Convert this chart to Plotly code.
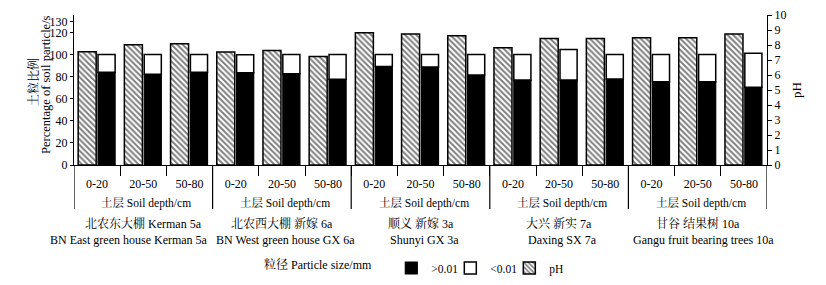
import plotly.graph_objects as go

# ---- data ----
sites_cn = ["北农东大棚 Kerman 5a", "北农西大棚 新嫁 6a", "顺义 新嫁 3a", "大兴 新实 7a", "甘谷 结果树 10a"]
sites_en = ["BN East green house Kerman 5a", "BN West green house GX 6a", "Shunyi GX 3a",
            "Daxing SX 7a", "Gangu fruit bearing trees 10a"]
depths = ["0-20", "20-50", "50-80"]
depth_title = "土层 Soil depth/cm"

coarse = [83.9, 82.0, 84.0, 83.5, 82.6, 77.5, 89.0, 88.7, 81.4, 76.9, 76.9, 77.8, 75.4, 75.4, 70.3]   # >0.01 mm
fine = [16.1, 18.0, 16.0, 16.2, 17.4, 22.5, 11.0, 11.3, 18.6, 23.1, 27.6, 22.2, 24.6, 24.6, 30.7]     # <0.01 mm
ph = [7.55, 8.02, 8.09, 7.53, 7.64, 7.24, 8.82, 8.73, 8.62, 7.82, 8.44, 8.44, 8.49, 8.49, 8.73]

left_ticks = [0, 20, 40, 60, 80, 100, 120, 130]
right_ticks = list(range(0, 11))

# small horizontal nudges of the English site labels (style only)
en_shift = [-14, 4, 4, 3, 6]

# ---- build ----
n_dep = len(depths)
idx = list(range(len(sites_cn) * n_dep))
tick_text = [depths[i % n_dep] for i in idx]

FONT = "Liberation Serif, Noto Serif CJK SC, Noto Sans CJK SC, serif"
PLOT_H = 150.0
# the page body has an 8px default margin; the figure is sized so that it fits the window
BODY = 8

fig = go.Figure()
fig.add_trace(go.Bar(
    x=idx, y=coarse, name=">0.01", legendrank=1,
    width=0.37, offset=0.02,
    marker=dict(color="black", line=dict(color="black", width=1.2)),
))
fig.add_trace(go.Bar(
    x=idx, y=fine, base=coarse, name="<0.01", legendrank=2,
    width=0.37, offset=0.02,
    marker=dict(color="white", line=dict(color="black", width=1.5)),
))
fig.add_trace(go.Bar(
    x=idx, y=ph, name="pH", yaxis="y2", legendrank=3,
    width=0.39, offset=-0.41,
    marker=dict(color="white",
                pattern=dict(shape="\\", fgcolor="black", bgcolor="white", size=4, solidity=0.5),
                line=dict(color="black", width=1.5)),
))

fig.update_layout(
    width=826 - BODY, height=285 - BODY,
    margin=dict(l=74 - BODY, r=59, t=15 - BODY, b=120, autoexpand=False),
    paper_bgcolor="white", plot_bgcolor="white",
    barmode="overlay",
    font=dict(family=FONT, size=13, color="black"),
    xaxis=dict(
        range=[-0.5, len(idx) - 0.5],
        tickvals=idx, ticktext=tick_text,
        ticks="outside", ticklen=7, tickcolor="rgba(0,0,0,0)",
        minor=dict(tickvals=[i + 0.5 for i in idx[:-1]], ticks="outside", ticklen=10,
                   tickcolor="black", tickwidth=1),
        showline=True, linecolor="black", linewidth=1.2,
        showgrid=False, zeroline=False, tickfont=dict(size=12), automargin=False,
    ),
    yaxis=dict(
        range=[0, 135.7], tickvals=left_ticks,
        ticks="outside", ticklen=3, tickcolor="black",
        showline=True, linecolor="black", linewidth=1.2,
        showgrid=False, zeroline=False, tickfont=dict(size=12), automargin=False,
    ),
    yaxis2=dict(
        range=[0, 10], tickvals=right_ticks, overlaying="y", side="right",
        ticks="outside", ticklen=4, tickcolor="black",
        showline=True, linecolor="black", linewidth=1.2,
        showgrid=False, zeroline=False, tickfont=dict(size=12), automargin=False,
    ),
    legend=dict(
        orientation="h", x=(262 - 74) / 693, y=-(268 - 165) / PLOT_H, xanchor="left", yanchor="middle",
        title=dict(text="粒径 Particle size/mm&nbsp;&nbsp;&nbsp;&nbsp;", side="left", font=dict(size=12)),
        font=dict(size=11.5), itemwidth=30, entrywidth=14, tracegroupgap=0,
        bgcolor="rgba(0,0,0,0)",
    ),
)

# long separators between sites and axis extensions below the x axis
shapes = []
for b in [-0.5] + [s * n_dep - 0.5 for s in range(1, len(sites_cn))] + [len(idx) - 0.5]:
    shapes.append(dict(type="line", xref="x", yref="paper", x0=b, x1=b, y0=0, y1=-44 / PLOT_H,
                       line=dict(color="black", width=1.2)))
fig.update_layout(shapes=shapes)

ann = []
for s in range(len(sites_cn)):
    cx = s * n_dep + (n_dep - 1) / 2
    ann.append(dict(x=cx, y=-(203 - 165) / PLOT_H, xref="x", yref="paper", text=depth_title,
                    showarrow=False, font=dict(size=11.5), yanchor="middle", xshift=3))
    ann.append(dict(x=cx, y=-(223 - 165) / PLOT_H, xref="x", yref="paper", text=sites_cn[s],
                    showarrow=False, font=dict(size=12), yanchor="middle"))
    ann.append(dict(x=cx, y=-(240 - 165) / PLOT_H, xref="x", yref="paper", text=sites_en[s],
                    showarrow=False, font=dict(size=12), yanchor="middle", xshift=en_shift[s]))

# axis titles
ann.append(dict(x=0, y=(165 - 82) / PLOT_H, xref="paper", yref="paper", text="土粒比例",
                textangle=-90, showarrow=False, xanchor="center", yanchor="middle",
                xshift=33 - 74, font=dict(size=12)))
ann.append(dict(x=0, y=(165 - 85) / PLOT_H, xref="paper", yref="paper",
                text="Percentage of soil particle/s",
                textangle=-90, showarrow=False, xanchor="center", yanchor="middle",
                xshift=46 - 74, font=dict(size=12.5)))
ann.append(dict(x=1, y=(165 - 90) / PLOT_H, xref="paper", yref="paper", text="pH",
                textangle=-90, showarrow=False, xanchor="center", yanchor="middle",
                xshift=796 - 767, font=dict(size=13)))
fig.update_layout(annotations=ann)

fig.write_html("out.html")
